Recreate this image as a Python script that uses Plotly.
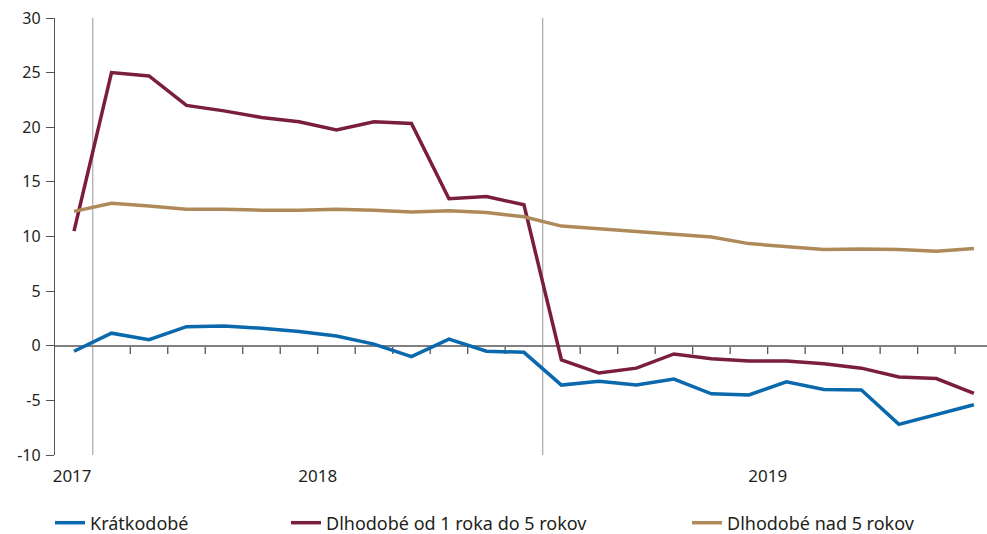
import plotly.graph_objects as go

months = list(range(25))
kratkodobe = [-0.5, 1.15, 0.55, 1.75, 1.8, 1.6, 1.3, 0.9, 0.15, -1.0, 0.6, -0.5, -0.6,
              -3.6, -3.25, -3.6, -3.05, -4.4, -4.5, -3.3, -4.0, -4.05, -7.2, -6.3, -5.4]
dlh_1_5 = [10.5, 25.0, 24.7, 22.0, 21.5, 20.9, 20.5, 19.75, 20.5, 20.35, 13.45, 13.65, 12.9,
           -1.3, -2.5, -2.05, -0.75, -1.2, -1.4, -1.4, -1.65, -2.05, -2.85, -3.0, -4.35]
dlh_nad5 = [12.3, 13.05, 12.8, 12.5, 12.5, 12.4, 12.4, 12.5, 12.4, 12.25, 12.35, 12.2, 11.8,
            10.95, 10.7, 10.45, 10.25, 9.95, 9.35, 9.05, 8.8, 8.85, 8.8, 8.65, 8.9]
year_labels = ["2017", "2018", "2019"]
year_pos = [-0.05, 6.5, 18.5]
separators = [0.5, 12.5]
y_ticks = [-10, -5, 0, 5, 10, 15, 20, 25, 30]
y_ticktext = ["-10", "-5", "0", "5", "10", "15", "20", "25", "30"]

names = ["Krátkodobé", "Dlhodobé od 1 roka do 5 rokov", "Dlhodobé nad 5 rokov"]
colors = ["#0a68ad", "#7a1e3e", "#ae8a5a"]
series = [kratkodobe, dlh_1_5, dlh_nad5]

FONT = "Noto Sans"
TXT = "#231f20"

fig = go.Figure()
legends = ["legend", "legend2", "legend3"]
for s, n, c, lg in zip(series, names, colors, legends):
    fig.add_trace(go.Scatter(x=months, y=s, name=n, mode="lines",
                             line=dict(color=c, width=3.5), legend=lg))

shapes = []
for sx in separators:
    shapes.append(dict(type="line", xref="x", yref="y", x0=sx, x1=sx, y0=-10, y1=30,
                       line=dict(color="#a8a8a8", width=1.2), layer="below"))
for i in range(24):
    bx = i + 0.5
    if bx in separators:
        continue
    shapes.append(dict(type="line", xref="x", yref="y", x0=bx, x1=bx, y0=0, y1=-0.75,
                       line=dict(color="#555555", width=1.3), layer="below"))

W, H = 987, 534
L, R, T, B = 55, 0, 18, 79

leg_text_px = [90, 326, 727]
leg_common = dict(orientation="h", yref="container", y=1 - 523 / H, yanchor="middle",
                  xref="container", xanchor="left",
                  font=dict(family=FONT, size=18, color=TXT), bgcolor="rgba(0,0,0,0)",
                  borderwidth=0, itemwidth=30)
layout_legends = {}
for lg, tp in zip(legends, leg_text_px):
    layout_legends[lg] = dict(leg_common, x=(tp - 40) / W)

fig.update_layout(
    width=W, height=H,
    margin=dict(l=L, r=R, t=T, b=B, autoexpand=False),
    paper_bgcolor="white", plot_bgcolor="white",
    font=dict(family=FONT, color=TXT),
    shapes=shapes,
    showlegend=True,
    **layout_legends,
    xaxis=dict(range=[-0.507, 24.35], tickmode="array", tickvals=year_pos, ticktext=year_labels,
               ticks="", showline=False, showgrid=False, zeroline=False,
               tickfont=dict(family=FONT, size=17, color=TXT), ticklabelstandoff=9),
    yaxis=dict(range=[-10, 30], tickmode="array", tickvals=y_ticks, ticktext=y_ticktext,
               showline=True, linecolor="#555555", linewidth=1.3,
               ticks="outside", ticklen=8, tickcolor="#555555", tickwidth=1.3,
               showgrid=False, zeroline=True, zerolinecolor="#808080", zerolinewidth=1.5,
               tickfont=dict(family=FONT, size=16, color=TXT), ticklabelstandoff=2),
)

fig.write_html("out.html")
